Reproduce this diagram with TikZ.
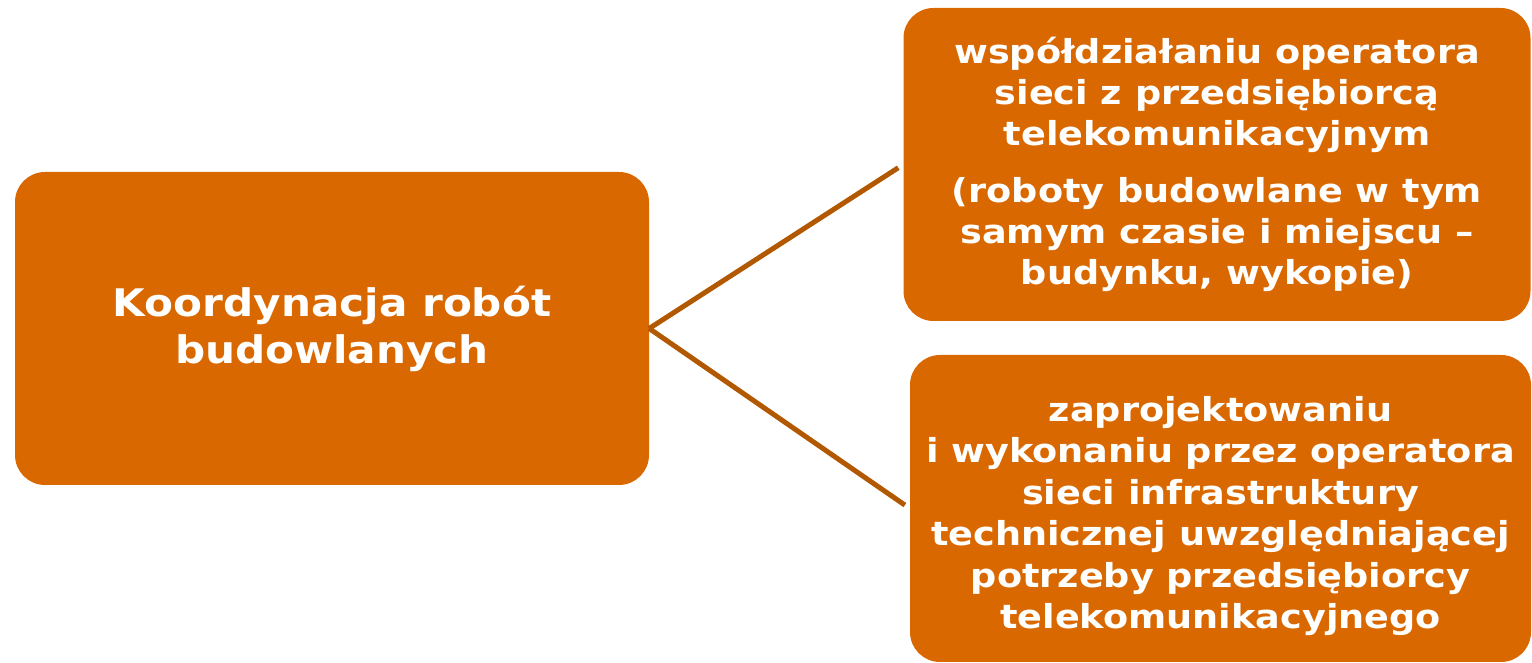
\documentclass[tikz,border=0pt]{standalone}
\usepackage{fontspec}
\setmainfont[FakeStretch=1.11]{DejaVu Sans}
\definecolor{boxorange}{RGB}{218,104,0}
\definecolor{linkbrown}{RGB}{178,88,0}
\tikzset{
  box/.style={fill=boxorange, rounded corners=30pt, text=white,
    align=center, inner sep=0pt},
  link/.style={draw=linkbrown, line width=5pt, shorten >=6pt},
}

\begin{document}
\begin{tikzpicture}[x=1pt, y=1pt]
  \useasboundingbox (0, 0) rectangle (1532, 663);
  \node[box, minimum width=634pt, minimum height=313pt,
    font={\fontsize{38}{47}\selectfont\bfseries}] (koord) at (332, 334.5)
    {Koordynacja robót\\budowlanych};
  \node[box, minimum width=627pt, minimum height=313pt,
    font={\fontsize{33}{41}\selectfont\bfseries}] (wsp) at (1217, 498.5)
    {współdziałaniu operatora\\sieci z przedsiębiorcą\\telekomunikacyjnym\\[16pt]
     (roboty budowlane w tym\\samym czasie i miejscu –\\budynku, wykopie)};
  \node[box, minimum width=621pt, minimum height=307pt,
    font={\fontsize{33}{41.5}\selectfont\bfseries}] (zap) at (1220.5, 154.5)
    {\rule{0pt}{40pt}zaprojektowaniu\\i wykonaniu przez operatora\\sieci infrastruktury\\
     technicznej uwzględniającej\\potrzeby przedsiębiorcy\\telekomunikacyjnego};

  \draw[link] (koord.east) -- (wsp.west);
  \draw[link] (koord.east) -- (zap.west);
\end{tikzpicture}
\end{document}
